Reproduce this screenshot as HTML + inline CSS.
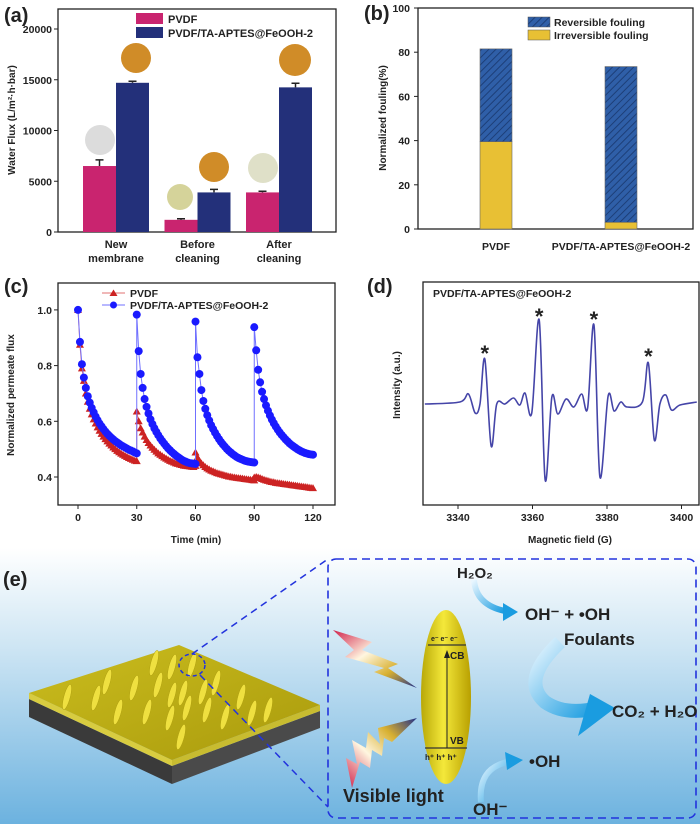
<!DOCTYPE html>
<html><head><meta charset="utf-8"><style>
html,body{margin:0;padding:0;background:#fff;}
svg{display:block;font-family:"Liberation Sans",Arial,sans-serif;}
.t{font-weight:bold;fill:#222;}
</style></head><body>
<svg id="fig" width="700" height="824" viewBox="0 0 700 824" xmlns="http://www.w3.org/2000/svg">
<defs>
<pattern id="hatch" width="5" height="5" patternUnits="userSpaceOnUse" patternTransform="rotate(45)">
<rect width="5" height="5" fill="#2f5fa8"/><line x1="0" y1="0" x2="0" y2="5" stroke="#1d3f78" stroke-width="2"/></pattern>
<linearGradient id="bg" x1="0" y1="0" x2="0" y2="1"><stop offset="0" stop-color="#ffffff"/><stop offset="0.35" stop-color="#cfe6f4"/><stop offset="1" stop-color="#6cb2df"/></linearGradient>
<linearGradient id="yel" x1="0" y1="0" x2="1" y2="0"><stop offset="0" stop-color="#b8a808"/><stop offset="0.45" stop-color="#f4e83a"/><stop offset="1" stop-color="#b8a000"/></linearGradient>
<linearGradient id="plat" x1="0" y1="0" x2="1" y2="1"><stop offset="0" stop-color="#cbbd1e"/><stop offset="1" stop-color="#a99a0c"/></linearGradient>
<linearGradient id="bolt" x1="0" y1="0" x2="1" y2="1"><stop offset="0" stop-color="#d0204a"/><stop offset="0.4" stop-color="#fff6e0"/><stop offset="0.7" stop-color="#d8b030"/><stop offset="1" stop-color="#1e2f8a"/></linearGradient>
<linearGradient id="bolt2" x1="0" y1="1" x2="1" y2="0"><stop offset="0" stop-color="#d0204a"/><stop offset="0.4" stop-color="#fff6e0"/><stop offset="0.7" stop-color="#d8b030"/><stop offset="1" stop-color="#1e2f8a"/></linearGradient>
<linearGradient id="arr" x1="0" y1="0" x2="1" y2="1"><stop offset="0" stop-color="#e8f6ff"/><stop offset="1" stop-color="#1a9ce0"/></linearGradient>
</defs>
<rect width="700" height="824" fill="#fff"/>

<g id="pa">
<text class="t" x="4" y="22" font-size="20">(a)</text>
<rect x="58" y="9" width="278" height="223" fill="none" stroke="#222" stroke-width="1.3"/>
<text class="t" font-size="10" transform="translate(15,120) rotate(-90)" text-anchor="middle">Water Flux (L/m²·h·bar)</text>
<rect x="136" y="13" width="27" height="11" fill="#c9246f"/>
<text class="t" x="168" y="23" font-size="11">PVDF</text>
<rect x="136" y="27" width="27" height="11" fill="#23307a"/>
<text class="t" x="168" y="37" font-size="11">PVDF/TA-APTES@FeOOH-2</text>
<circle cx="100" cy="140" r="15" fill="#dcdcdc"/>
<circle cx="136" cy="58" r="15" fill="#d08c28"/>
<circle cx="180" cy="197" r="13" fill="#d5d39a"/>
<circle cx="214" cy="167" r="15" fill="#d08c28"/>
<circle cx="263" cy="168" r="15" fill="#dfe0c8"/>
<circle cx="295" cy="60" r="16" fill="#d08c28"/>
</g>

<g id="pb">
<text class="t" x="364" y="20" font-size="20">(b)</text>
<rect x="418" y="8" width="275" height="221" fill="none" stroke="#222" stroke-width="1.3"/>
<text class="t" font-size="10" transform="translate(386,118) rotate(-90)" text-anchor="middle">Normalized fouling(%)</text>
<rect x="528" y="17" width="22" height="10" fill="url(#hatch)" stroke="#555" stroke-width="0.5"/>
<text class="t" x="554" y="26" font-size="10.5">Reversible fouling</text>
<rect x="528" y="30" width="22" height="10" fill="#e8c034" stroke="#555" stroke-width="0.5"/>
<text class="t" x="554" y="39" font-size="10.5">Irreversible fouling</text>
</g>

<g id="pc">
<text class="t" x="4" y="293" font-size="20">(c)</text>
<rect x="58" y="283" width="277" height="222" fill="none" stroke="#222" stroke-width="1.3"/>
<text class="t" font-size="10" transform="translate(14,395) rotate(-90)" text-anchor="middle">Normalized permeate flux</text>
<text class="t" font-size="10" x="196" y="543" text-anchor="middle">Time (min)</text>
<line x1="102" y1="293" x2="125" y2="293" stroke="#e07070" stroke-width="1"/>
<polygon points="113.5,289.5 117.5,296 109.5,296" fill="#cc2222"/>
<text class="t" x="130" y="297" font-size="10.5">PVDF</text>
<line x1="102" y1="305" x2="125" y2="305" stroke="#7070ff" stroke-width="1"/>
<circle cx="113.5" cy="305" r="3.5" fill="#1a1aff"/>
<text class="t" x="130" y="309" font-size="10.5">PVDF/TA-APTES@FeOOH-2</text>
</g>

<g id="pd">
<text class="t" x="367" y="293" font-size="20">(d)</text>
<rect x="423" y="282" width="276" height="223" fill="none" stroke="#222" stroke-width="1.3"/>
<text class="t" font-size="10" transform="translate(400,385) rotate(-90)" text-anchor="middle">Intensity (a.u.)</text>
<text class="t" font-size="10" x="570" y="543" text-anchor="middle">Magnetic field (G)</text>
<text class="t" x="433" y="297" font-size="10.5">PVDF/TA-APTES@FeOOH-2</text>
</g>

<g id="pe">
<rect x="0" y="548" width="700" height="276" fill="url(#bg)"/>
<text class="t" x="3" y="586" font-size="20">(e)</text>
<polygon points="29,699 172,766 172,784 29,717" fill="#3a3a3a"/>
<polygon points="172,766 320,711 320,728 172,784" fill="#4a4a4a"/>
<polygon points="29,693 172,760 172,766 29,699" fill="#d8cc40"/>
<polygon points="172,760 320,705 320,711 172,766" fill="#c8bc30"/>
<polygon points="29,693 179,645 320,705 172,760" fill="url(#plat)"/>
<g id="rods" fill="#efe040" stroke="#b0a010" stroke-width="0.5"></g>
<ellipse cx="192" cy="665" rx="13" ry="11" fill="none" stroke="#2233dd" stroke-width="1.5" stroke-dasharray="4,3"/>
<line x1="192" y1="654" x2="328" y2="559" stroke="#2233dd" stroke-width="1.5" stroke-dasharray="7,5"/>
<line x1="200" y1="675" x2="328" y2="807" stroke="#2233dd" stroke-width="1.5" stroke-dasharray="7,5"/>
<rect x="328" y="559" width="368" height="259" rx="8" fill="none" stroke="#2233dd" stroke-width="1.6" stroke-dasharray="8,5"/>
<polygon points="333,630 372,642 362,650 398,664 388,668 417,688 374,672 384,668 345,657 354,650" fill="url(#bolt)"/>
<polygon points="352,788 346,758 357,764 352,740 366,748 368,732 380,744 378,728 417,718 392,742 384,738 382,756 372,750 370,768 360,762" fill="url(#bolt2)"/>
<ellipse cx="446" cy="697" rx="25" ry="87" fill="url(#yel)"/>
<line x1="428" y1="645" x2="466" y2="645" stroke="#333" stroke-width="1.2"/>
<line x1="425" y1="748" x2="467" y2="748" stroke="#333" stroke-width="1.2"/>
<line x1="447" y1="748" x2="447" y2="655" stroke="#222" stroke-width="1"/>
<polygon points="447,650 444,658 450,658" fill="#222"/>
<text class="t" x="431" y="641" font-size="7">e⁻ e⁻ e⁻</text>
<text class="t" x="450" y="659" font-size="10">CB</text>
<text class="t" x="450" y="744" font-size="10">VB</text>
<text class="t" x="425" y="760" font-size="8">h⁺ h⁺ h⁺</text>
<path d="M474,580 Q476,605 505,611" fill="none" stroke="url(#arr)" stroke-width="6"/>
<polygon points="503,603 518,612 503,621" fill="#1a9ce0"/>
<path d="M560,642 Q520,680 545,702 Q565,716 598,708" fill="none" stroke="url(#arr)" stroke-width="14"/>
<polygon points="590,694 615,708 578,736" fill="#1a9ce0"/>
<path d="M481,802 Q478,768 508,762" fill="none" stroke="url(#arr)" stroke-width="6"/>
<polygon points="505,752 523,760 507,770" fill="#1a9ce0"/>
<text class="t" x="457" y="578" font-size="15">H₂O₂</text>
<text class="t" x="525" y="620" font-size="17">OH⁻ + •OH</text>
<text class="t" x="564" y="645" font-size="17">Foulants</text>
<text class="t" x="612" y="717" font-size="17">CO₂ + H₂O</text>
<text class="t" x="529" y="767" font-size="17">•OH</text>
<text class="t" x="473" y="815" font-size="17">OH⁻</text>
<text class="t" x="343" y="802" font-size="18">Visible light</text>
</g>
</svg>
<script>
const aCategories = ["New|membrane", "Before|cleaning", "After|cleaning"];
const aPvdf = [6500, 1200, 3900];
const aPvdfErr = [600, 100, 120];
const aMod = [14700, 3900, 14250];
const aModErr = [150, 300, 400];
const aTicks = [0, 5000, 10000, 15000, 20000];
const bCategories = ["PVDF", "PVDF/TA-APTES@FeOOH-2"];
const bIrreversible = [39.5, 3];
const bTotal = [81.5, 73.5];
const bTicks = [0, 20, 40, 60, 80, 100];
const cTicksX = [0, 30, 60, 90, 120];
const cTicksY = [0.4, 0.6, 0.8, 1.0];
const cPvdfCycles = [
[1.0,0.875,0.79,0.745,0.7,0.67,0.645,0.625,0.607,0.592,0.578,0.566,0.555,0.545,0.536,0.528,0.52,0.513,0.506,0.5,0.494,0.489,0.484,0.48,0.476,0.472,0.468,0.465,0.462,0.459,0.457],
[0.635,0.6,0.575,0.56,0.545,0.533,0.522,0.513,0.505,0.498,0.491,0.485,0.48,0.475,0.47,0.466,0.462,0.458,0.455,0.452,0.449,0.447,0.445,0.443,0.441,0.44,0.439,0.438,0.437,0.436,0.44],
[0.488,0.47,0.458,0.449,0.442,0.436,0.431,0.427,0.423,0.42,0.417,0.414,0.412,0.41,0.408,0.406,0.404,0.402,0.401,0.399,0.398,0.397,0.396,0.395,0.394,0.393,0.392,0.391,0.39,0.389,0.388],
[0.398,0.4,0.398,0.396,0.393,0.39,0.388,0.386,0.384,0.382,0.381,0.379,0.378,0.377,0.376,0.375,0.374,0.373,0.372,0.371,0.37,0.369,0.368,0.367,0.366,0.365,0.364,0.363,0.362,0.361,0.36]
];
const cModCycles = [
[1.0,0.885,0.805,0.757,0.72,0.69,0.667,0.648,0.632,0.617,0.604,0.592,0.582,0.572,0.563,0.555,0.548,0.541,0.535,0.529,0.524,0.519,0.514,0.51,0.506,0.502,0.498,0.495,0.492,0.488,0.485],
[0.983,0.852,0.77,0.72,0.68,0.652,0.628,0.607,0.59,0.575,0.562,0.55,0.539,0.529,0.52,0.511,0.503,0.496,0.489,0.483,0.477,0.472,0.467,0.462,0.458,0.455,0.452,0.45,0.449,0.448,0.447],
[0.958,0.83,0.77,0.712,0.673,0.645,0.622,0.603,0.586,0.572,0.559,0.547,0.536,0.526,0.517,0.509,0.501,0.494,0.488,0.482,0.477,0.472,0.468,0.465,0.462,0.459,0.457,0.455,0.454,0.453,0.452],
[0.938,0.855,0.785,0.74,0.706,0.68,0.657,0.638,0.621,0.606,0.593,0.581,0.57,0.56,0.551,0.543,0.535,0.528,0.521,0.515,0.51,0.505,0.5,0.496,0.492,0.489,0.486,0.484,0.482,0.481,0.48]
];
const dTicksX = [3340, 3360, 3380, 3400];
const dField = [3331.1,3340.5,3342.8,3344.6,3345.9,3347.2,3348.9,3350.4,3352.6,3354.9,3356.6,3358.0,3359.8,3361.8,3363.4,3365.2,3366.8,3369.0,3371.1,3373.2,3374.8,3376.5,3378.1,3380.3,3381.9,3383.7,3385.4,3389.5,3391.1,3392.7,3394.2,3395.8,3397.3,3399.6,3404.1];
const dIntensity = [0,2,10,-9,0,45,-42,0,0,6,-1,11,-9,84,-76,7,-10,5,-3,10,-4,79,-73,8,-7,2,-3,2,41,-36,0,9,-6,-1,2];
const dStarField = [3347.2, 3361.8, 3376.5, 3391.1];
const dStarInt = [57, 94, 91, 54];
const rodCenters = [[67,697],[96,698],[107,682],[134,688],[118,712],[154,663],[172,667],[158,685],[172,695],[192,665],[203,692],[216,683],[183,693],[147,712],[170,718],[187,708],[207,710],[225,717],[241,697],[252,713],[268,710],[181,737]];

const NS = "http://www.w3.org/2000/svg";
const svg = document.getElementById("fig");
function mk(tag, attrs, parent) {
  const e = document.createElementNS(NS, tag);
  for (const k in attrs) e.setAttribute(k, attrs[k]);
  (parent || svg).appendChild(e);
  return e;
}
function txt(x, y, s, size, anchor, parent) {
  const e = mk("text", {x: x, y: y, "font-size": size, "text-anchor": anchor || "middle", "class": "t"}, parent);
  e.textContent = s;
  return e;
}

const ga = document.getElementById("pa");
const aY = v => 232 - v * 203 / 20000;
const aX = i => 116 + i * 81.5;
aTicks.forEach(t => {
  const l = mk("line", {x1: 54, x2: 58, y1: aY(t), y2: aY(t), stroke: "#222"}, ga);
  
  
  const tl = txt(52, aY(t) + 4, String(t), 10.5, "end", ga);
  
  
});
aCategories.forEach((c, i) => {
  const cx = aX(i);
  const b1 = mk("rect", {x: cx - 33, y: aY(aPvdf[i]), width: 33, height: 232 - aY(aPvdf[i]), fill: "#c9246f"}, ga);
  
  
  const b2 = mk("rect", {x: cx, y: aY(aMod[i]), width: 33, height: 232 - aY(aMod[i]), fill: "#23307a"}, ga);
  
  
  [[cx - 16.5, aPvdf[i], aPvdfErr[i]], [cx + 16.5, aMod[i], aModErr[i]]].forEach(p => {
    const eb = mk("path", {d: `M${p[0]},${aY(p[1])}V${aY(p[1] + p[2])}M${p[0] - 4},${aY(p[1] + p[2])}H${p[0] + 4}`, stroke: "#222", "stroke-width": 1.5, fill: "none"}, ga);
    
    
  });
  const parts = c.split("|");
  const cl = txt(cx, 248, parts[0], 11, "middle", ga);
  
  
  const cl2 = txt(cx, 262, parts[1], 11, "middle", ga);
  
  
});

const gb = document.getElementById("pb");
const bY = v => 229 - v * 2.21;
const bX = i => 496 + i * 125;
bTicks.forEach(t => {
  const l = mk("line", {x1: 414, x2: 418, y1: bY(t), y2: bY(t), stroke: "#222"}, gb);
  
  
  const tl = txt(410, bY(t) + 4, String(t), 10.5, "end", gb);
  
  
});
bCategories.forEach((c, i) => {
  const cx = bX(i);
  const r1 = mk("rect", {x: cx - 16, y: bY(bTotal[i]), width: 32, height: bY(bIrreversible[i]) - bY(bTotal[i]), fill: "url(#hatch)", stroke: "#666", "stroke-width": 0.6}, gb);
  
  
  const r2 = mk("rect", {x: cx - 16, y: bY(bIrreversible[i]), width: 32, height: 229 - bY(bIrreversible[i]), fill: "#e8c034", stroke: "#666", "stroke-width": 0.6}, gb);
  
  
  const cl = txt(cx, 250, c, 10.5, "middle", gb);
  
  
});

const gc = document.getElementById("pc");
const cX = t => 78 + t * (235 / 120);
const cY = v => 477 - (v - 0.4) * 278.5;
cTicksX.forEach(t => {
  const l = mk("line", {x1: cX(t), x2: cX(t), y1: 505, y2: 509, stroke: "#222"}, gc);
  
  
  const tl = txt(cX(t), 521, String(t), 10.5, "middle", gc);
  
  
});
cTicksY.forEach(t => {
  const l = mk("line", {x1: 54, x2: 58, y1: cY(t), y2: cY(t), stroke: "#222"}, gc);
  
  
  const tl = txt(52, cY(t) + 4, t.toFixed(1), 10.5, "end", gc);
  
  
});
function series(cycles, color, lineColor, marker, name) {
  const pts = [];
  cycles.forEach((cyc, k) => cyc.forEach((v, i) => pts.push([cX(30 * k + i), cY(v)])));
  const pl = mk("polyline", {points: pts.map(p => p.join(",")).join(" "), fill: "none", stroke: lineColor, "stroke-width": 1}, gc);
  
  
  pts.forEach(p => {
    let m;
    if (marker === "tri") m = mk("polygon", {points: `${p[0]},${p[1] - 4} ${p[0] + 4},${p[1] + 3} ${p[0] - 4},${p[1] + 3}`, fill: color}, gc);
    else m = mk("circle", {cx: p[0], cy: p[1], r: 4, fill: color}, gc);
    
    
  });
}
series(cPvdfCycles, "#cc2222", "#e07070", "tri", "pvdf");
series(cModCycles, "#1a1aff", "#7070ff", "dot", "modified");

const gd = document.getElementById("pd");
const dX = f => 458 + (f - 3340) * 3.725;
const dY = v => 404 - v;
dTicksX.forEach(t => {
  const l = mk("line", {x1: dX(t), x2: dX(t), y1: 505, y2: 509, stroke: "#222"}, gd);
  
  
  const tl = txt(dX(t), 521, String(t), 10.5, "middle", gd);
  
  
});
(function () {
  const P = dField.map((f, i) => [dX(f), dY(dIntensity[i])]);
  let d = `M${P[0][0]},${P[0][1]}`;
  for (let i = 0; i < P.length - 1; i++) {
    const p0 = P[Math.max(0, i - 1)], p1 = P[i], p2 = P[i + 1], p3 = P[Math.min(P.length - 1, i + 2)];
    const c1 = [p1[0] + (p2[0] - p0[0]) / 6, p1[1] + (p2[1] - p0[1]) / 6];
    const c2 = [p2[0] - (p3[0] - p1[0]) / 6, p2[1] - (p3[1] - p1[1]) / 6];
    d += ` C${c1[0]},${c1[1]} ${c2[0]},${c2[1]} ${p2[0]},${p2[1]}`;
  }
  const path = mk("path", {d: d, fill: "none", stroke: "#4545a8", "stroke-width": 1.6}, gd);
  
  
})();
dStarField.forEach((f, i) => {
  const s = txt(dX(f), dY(dStarInt[i]) + 14, "*", 22, "middle", gd);
  
  
});

const rods = document.getElementById("rods");
rodCenters.forEach(c => {
  const e = mk("ellipse", {cx: c[0], cy: c[1], rx: 3.2, ry: 13, transform: `rotate(15 ${c[0]} ${c[1]})`}, rods);
  
  
});
</script>
</body></html>
